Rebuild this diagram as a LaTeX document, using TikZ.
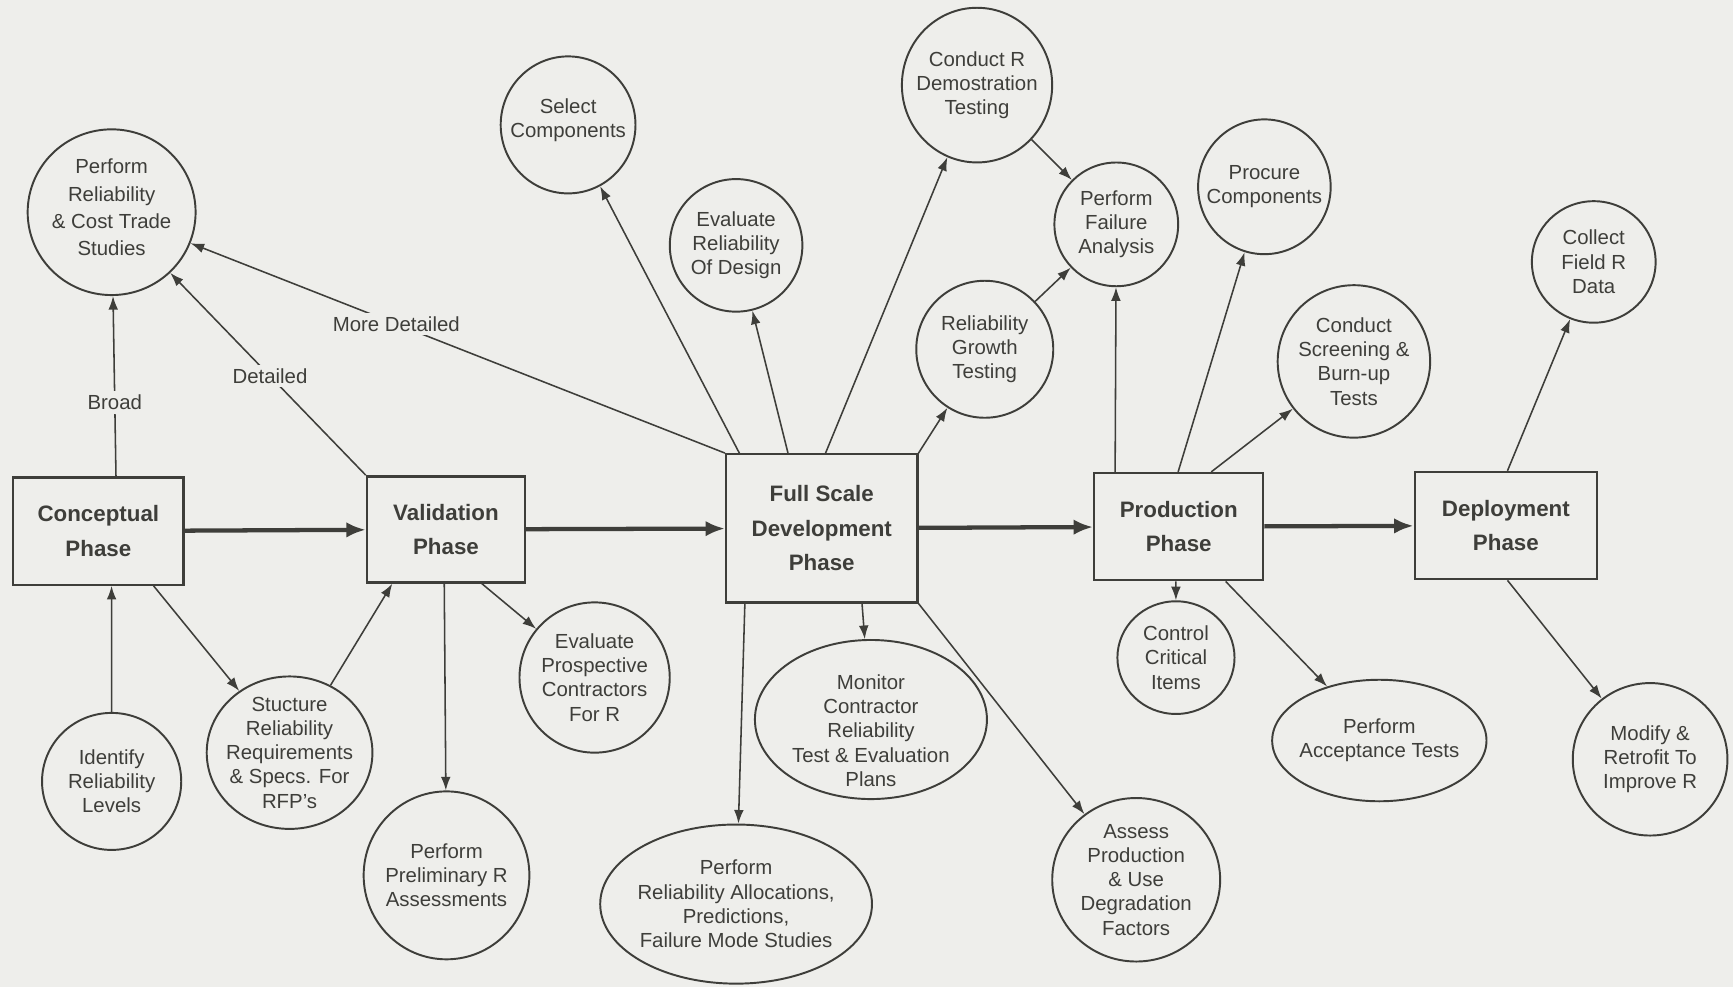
\documentclass[tikz,border=0pt]{standalone}
\usepackage{fontspec}
\setmainfont{Liberation Sans}
\usetikzlibrary{shapes.geometric,arrows.meta,calc}
\definecolor{bg}{RGB}{238,238,235}
\definecolor{ink}{RGB}{62,62,58}
\newcommand\ctext{\fontsize{10.5}{12.5}\selectfont}
\newcommand\wtext{\fontsize{10.5}{14}\selectfont}
\newcommand\btext{\fontsize{11.5}{17.8}\selectfont\bfseries}
\tikzset{
  box/.style 2 args={draw=ink, line width=1.2pt, rectangle, minimum width={#1*0.02cm}, minimum height={#2*0.02cm}, inner sep=0pt, align=center, font=\btext, text=ink},
  bub/.style 2 args={draw=ink, line width=1pt, ellipse, minimum width={#1*0.04cm}, minimum height={#2*0.04cm}, inner sep=-40pt, align=center, font=\ctext, text=ink},
  arr/.style={draw=ink, line width=0.8pt, -{Latex[length=7pt,width=5pt]}},
  mainarr/.style={draw=ink, line width=2.2pt, -{Latex[length=10pt,width=8pt]}},
  lbl/.style={fill=bg, inner sep=2pt, font=\ctext, text=ink}
}
\begin{document}
\begin{tikzpicture}[x=0.02cm,y=-0.02cm]
\fill[bg] (0,0) rectangle (1568,893);
\useasboundingbox (0,0) rectangle (1568,893);

% phase boxes
\node[box={154}{97}] (con) at (89,480.5) {Conceptual\\Phase};
\node[box={143}{96}] (val) at (403.5,479) {Validation\\Phase};
\node[box={173}{134}] (fsd) at (743.5,478) {Full Scale\\Development\\Phase};
\node[box={153}{97}] (pro) at (1066.5,476.5) {Production\\Phase};
\node[box={165}{97}] (dep) at (1362.5,475.5) {Deployment\\Phase};

% activity bubbles
\node[bub={76}{75}, font=\wtext] (prc) at (101,192) {Perform\\Reliability\\\& Cost Trade\\Studies\rule[-5pt]{0pt}{0pt}};
\node[bub={61}{62}] (sel) at (514,113) {Select\\Components\rule[-7pt]{0pt}{0pt}};
\node[bub={60}{60}] (evd) at (666,222) {Evaluate\\Reliability\\Of Design};
\node[bub={68}{70}] (crd) at (884,77) {Conduct R\\Demostration\\Testing};
\node[bub={56}{56}] (pfa) at (1010,203) {Perform\\Failure\\Analysis};
\node[bub={62}{62}] (rgt) at (891,316) {Reliability\\Growth\\Testing};
\node[bub={60}{61}] (proc) at (1144,169) {Procure\\Components};
\node[bub={56}{55}] (col) at (1442,237) {Collect\\Field R\\Data};
\node[bub={69}{69}] (scr) at (1225,327) {Conduct\\Screening \&\\Burn-up\\Tests};
\node[bub={63}{62}] (idl) at (101,707) {Identify\\Reliability\\Levels};
\node[bub={75}{69}] (stu) at (262,681) {Stucture\\Reliability\\Requirements\\\& Specs. For\\RFP's};
\node[bub={68}{68}] (epc) at (538,613) {Evaluate\\Prospective\\Contractors\\For R};
\node[bub={75}{76}] (pre) at (404,792) {Perform\\Preliminary R\\Assessments};
\node[bub={123}{72}] (all) at (666,818) {Perform\\Reliability Allocations,\\Predictions,\\Failure Mode Studies};
\node[bub={105}{72}] (mon) at (788,651) {\rule{0pt}{19pt}Monitor\\Contractor\\Reliability\\Test \& Evaluation\\Plans};
\node[bub={76}{74}] (asd) at (1028,796) {Assess\\Production\\\& Use\\Degradation\\Factors};
\node[bub={53}{51}] (ctl) at (1064,595) {Control\\Critical\\Items};
\node[bub={97}{55}] (acc) at (1248,670) {Perform\\Acceptance Tests};
\node[bub={70}{69}] (mod) at (1493,687) {Modify \&\\Retrofit To\\Improve R};

% contact points on boxes
\coordinate (cN) at ($(con.north west)+(94,0)$);
\coordinate (c1) at ($(con.south west)+(90,0)$);
\coordinate (c2) at ($(con.south west)+(128,0)$);
\coordinate (v1) at ($(val.south west)+(71,0)$);
\coordinate (v2) at ($(val.south west)+(105,0)$);
\coordinate (v3) at ($(val.south west)+(24,0)$);
\coordinate (f1) at ($(fsd.north west)+(13,0)$);
\coordinate (f2) at ($(fsd.north west)+(57,0)$);
\coordinate (f3) at ($(fsd.north west)+(91,0)$);
\coordinate (f4) at ($(fsd.south west)+(18,0)$);
\coordinate (f5) at ($(fsd.south west)+(124,0)$);
\coordinate (p1) at ($(pro.north west)+(20,0)$);
\coordinate (p2) at ($(pro.north west)+(77,0)$);
\coordinate (p3) at ($(pro.north west)+(107,0)$);
\coordinate (p4) at ($(pro.south west)+(75,0)$);
\coordinate (p5) at ($(pro.south west)+(120,0)$);
\coordinate (d1) at ($(dep.north west)+(85,0)$);
\coordinate (d2) at ($(dep.south west)+(85,0)$);

% main flow
\draw[mainarr] (con) -- (val);
\draw[mainarr] (val) -- (fsd);
\draw[mainarr] (fsd) -- (pro);
\draw[mainarr] (pro) -- (dep);

% labelled arrows to trade studies
\draw[arr] (cN) -- node[lbl,pos=0.41]{Broad} (prc);
\draw[arr] (val.north west) -- node[lbl,pos=0.49]{Detailed} (prc);
\draw[arr] (fsd.north west) -- node[lbl,pos=0.615]{More Detailed} (prc);

% conceptual / validation
\draw[arr] (idl) -- (c1);
\draw[arr] (c2) -- (stu);
\draw[arr] (stu) -- (v3);
\draw[arr] (v1) -- (pre);
\draw[arr] (v2) -- (epc);

% full scale development
\draw[arr] (f1) -- (sel);
\draw[arr] (f2) -- (evd);
\draw[arr] (f3) -- (crd);
\draw[arr] (fsd.north east) -- (rgt);
\draw[arr] (crd) -- (pfa);
\draw[arr] (rgt) -- (pfa);
\draw[arr] (f4) -- (all);
\draw[arr] (f5) -- (mon);
\draw[arr] (fsd.south east) -- (asd);

% production
\draw[arr] (p1) -- (pfa);
\draw[arr] (p2) -- (proc);
\draw[arr] (p3) -- (scr);
\draw[arr] (p4) -- (ctl);
\draw[arr] (p5) -- (acc);

% deployment
\draw[arr] (d1) -- (col);
\draw[arr] (d2) -- (mod);
\end{tikzpicture}
\end{document}
